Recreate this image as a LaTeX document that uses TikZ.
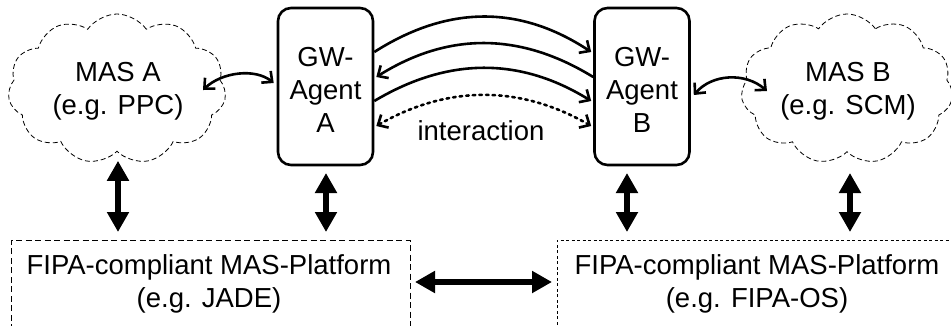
\documentclass[tikz,border=0pt]{standalone}
\usepackage{fontspec}
\setmainfont{Liberation Sans}
\usetikzlibrary{shapes.symbols,arrows.meta,calc}
\begin{document}
\begin{tikzpicture}[x=1pt,y=-1pt,
  txt/.style={font=\fontsize{27.5}{33}\selectfont,align=center},
  gw/.style={draw,line width=2.6pt,rounded corners=13pt,minimum width=95pt,minimum height=157pt,inner sep=0pt},
  masc/.style={draw,cloud,cloud puffs=11,cloud puff arc=110,line width=0.8pt,dash pattern=on 5pt off 3pt,inner sep=0pt},
  thin/.style={line width=2.6pt,-{Straight Barb[length=8pt,width=15pt,line width=2.6pt]}},
  thinb/.style={line width=2.6pt,{Straight Barb[length=8pt,width=15pt,line width=2.6pt]}-{Straight Barb[length=8pt,width=15pt,line width=2.6pt]}},
  dots/.style={line width=2.6pt,dash pattern=on 2.6pt off 4pt,line cap=round,{Straight Barb[length=8pt,width=15pt,line width=2.6pt,line cap=butt]}-{Straight Barb[length=8pt,width=15pt,line width=2.6pt]}},
  thick/.style={line width=6pt,{Triangle[length=20pt,width=21pt]}-{Triangle[length=20pt,width=21pt]}},
  plat/.style={line width=0.9pt}
]
\useasboundingbox (0,0) rectangle (951,325);
% clouds
\node[masc,minimum width=218pt,minimum height=150pt] (ca) at (117,89) {};
\node[txt] (ta) at (118,91) {MAS A\\(e.g. PPC)};
\node[masc,minimum width=212pt,minimum height=150pt] (cb) at (847,89) {};
\node[txt] (tb) at (848,91) {MAS B\\(e.g. SCM)};
% gateway agents
\node[gw] (ga) at (325.5,86.5) {};
\node[txt] at (325.5,90) {GW-\\Agent\\A};
\node[gw] (gb) at (642,86.5) {};
\node[txt] at (642,90) {GW-\\Agent\\B};
% platforms
\coordinate (pl1) at (11,330);
\coordinate (pl2) at (410,240);
\draw[plat,dash pattern=on 6pt off 3.5pt] (11,330) -- (11,240) -- (410,240) -- (410,330);
\draw[plat,dash pattern=on 3pt off 2.5pt] (557,330) -- (557,240) -- (955,240);
\node[txt] (pa) at (209,284) {FIPA-compliant MAS-Platform\\(e.g. JADE)};
\node[txt] (pb) at (757,284) {FIPA-compliant MAS-Platform\\(e.g. FIPA-OS)};
\coordinate (pal) at (410,282);
\coordinate (pbr) at (557,282);
% anchor coordinates on GW boxes
\coordinate (a1) at (ga.east |- 0,52);
\coordinate (b1) at (gb.west |- 0,52);
\coordinate (a2) at (ga.east |- 0,77);
\coordinate (b2) at (gb.west |- 0,77);
\coordinate (a3) at (ga.east |- 0,101);
\coordinate (b3) at (gb.west |- 0,101);
\coordinate (a4) at (ga.east |- 0,126);
\coordinate (b4) at (gb.west |- 0,126);
% interaction arcs
\draw[thin] (a1) .. controls (448,5) and (520,5) .. ($(b1)+(-2,0)$);
\draw[thin] (b2) .. controls (520,32) and (448,32) .. ($(a2)+(2,0)$);
\draw[thin] (a3) .. controls (448,57) and (520,57) .. ($(b3)+(-2,0)$);
\draw[dots] ($(a4)+(2,0)$) .. controls (448,85) and (520,85) .. ($(b4)+(-2,0)$);
\node[txt] (int) at (481,131) {interaction};
% cloud - gw links
\coordinate (ca1) at (203,90);
\coordinate (cb1) at (767,91);
\draw[thinb] (ca1) .. controls (222,72) and (255,68) .. ($(ga.west |- 0,83)+(-3,0)$);
\draw[thinb] ($(gb.east |- 0,95)+(3,0)$) .. controls (712,74) and (745,72) .. (cb1);
% vertical thick arrows
\draw[thick] (ca.south -| 118,0) ++(0,9) coordinate (va) -- (118,232);
\draw[thick] (326,173) -- (326,232);
\draw[thick] (627,173) -- (627,232);
\draw[thick] (850,173) -- (850,232);
% horizontal thick arrow
\draw[thick] ($(pal)+(5,0)$) -- ($(pbr)+(-5,0)$);
\end{tikzpicture}
\end{document}
